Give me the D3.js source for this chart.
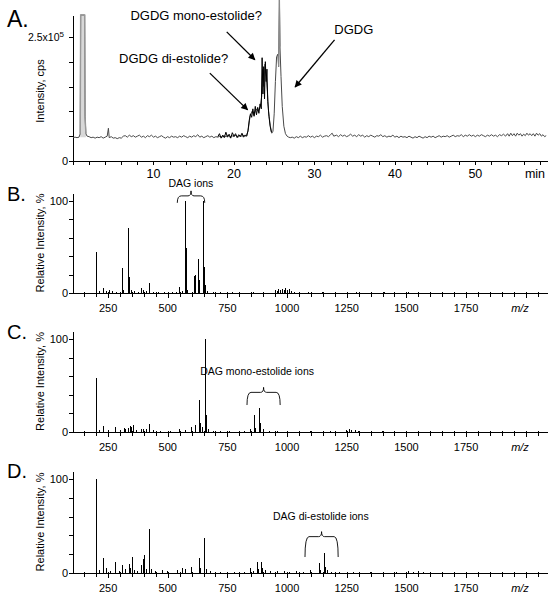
<!DOCTYPE html>
<html><head><meta charset="utf-8">
<script src="https://cdn.jsdelivr.net/npm/d3@7"></script>
<style>body{margin:0;background:#fff} svg{display:block} text{font-family:"Liberation Sans",Arial,sans-serif;fill:#000}</style>
</head><body><svg id="c" width="557" height="599"></svg>
<script>
// ---------- Panel A: chromatogram (time in min, intensity in 1e5 cps) ----------
const chromMain = [
[0,0.47],[0.25,0.48],[0.5,0.47],[0.75,0.48],[0.9,0.55],[0.95,2.94],[1.2,2.94],[1.45,2.94],[1.5,0.9],[1.6,0.55],[1.75,0.5],
[2,0.49],[2.25,0.47],[2.5,0.48],[2.75,0.46],[3,0.48],[3.25,0.47],[3.5,0.49],[3.75,0.46],[4,0.48],[4.25,0.5],[4.4,0.66],[4.5,0.47],
[4.75,0.49],[5,0.46],[5.25,0.47],[5.5,0.45],[5.75,0.47],[6,0.46],[6.25,0.5],[6.5,0.51],[6.75,0.48],[7,0.52],[7.25,0.49],[7.5,0.51],
[7.75,0.48],[8,0.5],[8.25,0.52],[8.5,0.48],[8.75,0.5],[9,0.47],[9.25,0.51],[9.5,0.49],[9.75,0.52],[10,0.48],[10.25,0.5],[10.5,0.47],
[10.75,0.49],[11,0.51],[11.25,0.48],[11.5,0.46],[11.75,0.49],[12,0.47],[12.25,0.5],[12.5,0.48],[12.75,0.49],[13,0.47],[13.25,0.5],
[13.5,0.48],[13.75,0.51],[14,0.49],[14.25,0.47],[14.5,0.5],[14.75,0.48],[15,0.51],[15.25,0.49],[15.5,0.53],[15.75,0.48],[16,0.5],
[16.25,0.47],[16.5,0.49],[16.75,0.51],[17,0.48],[17.25,0.5],[17.5,0.47],[17.75,0.49],[18,0.48],[18.25,0.5],[18.5,0.48],[18.75,0.51],
[19,0.49],[19.25,0.52],[19.5,0.48],[19.75,0.51],[20,0.49],[20.25,0.52],[20.5,0.48],[20.75,0.51],[21,0.5],[21.25,0.52],[21.5,0.5],
[21.75,0.6],[22,0.9],[22.25,1.0],[22.5,0.92],[22.75,1.05],[23,1.0],[23.25,1.1],[23.45,1.3],[23.55,1.85],[23.7,1.5],[23.85,1.95],
[24,1.7],[24.15,1.4],[24.3,1.0],[24.5,0.72],[24.7,0.56],[24.85,0.6],[25,0.95],[25.15,1.6],[25.3,2.1],[25.45,2.15],[25.55,1.9],
[25.65,3.25],[25.72,2.3],[25.85,1.7],[26,1.1],[26.2,0.7],[26.4,0.55],[26.6,0.5],[26.8,0.48],[27,0.47],[27.25,0.48],[27.5,0.46],
[27.75,0.49],[28,0.47],[28.25,0.5],[28.5,0.47],[28.75,0.49],[29,0.48],[29.25,0.51],[29.5,0.48],[29.75,0.5],[30,0.47],[30.25,0.5],
[30.5,0.49],[30.75,0.52],[31,0.48],[31.25,0.5],[31.5,0.51],[31.75,0.49],[32,0.53],[32.2,0.56],[32.4,0.5],[32.75,0.52],[33,0.49],
[33.25,0.53],[33.5,0.5],[33.75,0.52],[34,0.49],[34.25,0.51],[34.5,0.54],[34.75,0.5],[35,0.52],[35.25,0.49],[35.5,0.53],[35.75,0.5],
[36,0.52],[36.25,0.48],[36.5,0.51],[36.75,0.49],[37,0.52],[37.25,0.5],[37.5,0.48],[37.75,0.51],[38,0.5],[38.25,0.53],[38.5,0.49],
[38.75,0.51],[39,0.48],[39.25,0.5],[39.5,0.49],[39.75,0.52],[40,0.48],[40.25,0.5],[40.5,0.47],[40.75,0.5],[41,0.48],[41.25,0.49],
[41.5,0.47],[41.75,0.5],[42,0.48],[42.25,0.46],[42.5,0.49],[42.75,0.47],[43,0.5],[43.25,0.48],[43.5,0.46],[43.75,0.49],[44,0.47],
[44.25,0.5],[44.5,0.48],[44.75,0.5],[45,0.47],[45.25,0.49],[45.5,0.51],[45.75,0.48],[46,0.5],[46.25,0.49],[46.5,0.51],[46.75,0.48],
[47,0.5],[47.25,0.52],[47.5,0.49],[47.75,0.51],[48,0.5],[48.25,0.53],[48.5,0.49],[48.75,0.52],[49,0.5],[49.25,0.53],[49.5,0.5],
[49.75,0.52],[50,0.49],[50.25,0.52],[50.5,0.5],[50.75,0.53],[51,0.51],[51.25,0.49],[51.5,0.52],[51.75,0.5],[52,0.53],[52.25,0.5],
[52.5,0.52],[52.75,0.49],[53,0.53],[53.25,0.51],[53.5,0.54],[53.75,0.5],[54,0.55],[54.2,0.5],[54.4,0.56],[54.6,0.51],[54.8,0.55],
[55,0.5],[55.2,0.56],[55.4,0.52],[55.6,0.55],[55.8,0.5],[56,0.54],[56.2,0.51],[56.4,0.56],[56.6,0.52],[56.8,0.55],[57,0.51],
[57.2,0.55],[57.4,0.5],[57.6,0.56],[57.8,0.52],[58,0.55],[58.2,0.5],[58.4,0.53],[58.6,0.49],[58.8,0.51]
];
const chromBlack = [
[18,0.49],[18.2,0.55],[18.4,0.46],[18.6,0.52],[18.8,0.47],[19,0.58],[19.2,0.48],[19.4,0.54],[19.6,0.46],[19.8,0.57],[20,0.5],
[20.2,0.55],[20.4,0.47],[20.6,0.53],[20.8,0.49],[21,0.56],[21.2,0.48],[21.4,0.52],[21.6,0.5],[21.75,0.62],[21.9,0.82],[22.05,0.95],
[22.2,0.88],[22.35,1.05],[22.5,0.9],[22.65,1.1],[22.8,0.93],[22.95,1.08],[23.1,0.96],[23.25,1.15],[23.4,1.05],[23.5,2.08],[23.6,1.35],
[23.7,1.9],[23.8,1.25],[23.9,2.0],[24,1.6],[24.1,1.85],[24.2,1.2],[24.35,0.9],[24.5,0.7],[24.65,0.58]
];
const chromTimeTicks = [10, 20, 30, 40, 50];
const chromIntTicks = [0, 0.5, 1, 1.5, 2, 2.5];

// ---------- Panels B-D: MS/MS spectra (m/z, relative intensity %) ----------
const mzTickLabels = [250, 500, 750, 1000, 1250, 1500, 1750];
const relIntTicks = [0, 20, 40, 60, 80, 100];
const specB = [
[200,45],[202,5],[213,2],[231,5],[244,2],[258,3],[270,2],[285,1],[312,27],[316,3],[335,71],[337,58],[340,17],[348,3],[360,2],
[377,1],[392,5],[398,3],[410,2],[424,11],[440,1],[460,1],[485,1],[520,1],[536,1],[551,6],[563,2],[575,100],[577,49],[583,3],
[612,19],[618,20],[630,37],[634,14],[650,100],[653,28],[657,9],[668,2],[690,1],[720,1],[770,1],[860,1],[950,3],[958,2],
[966,4],[972,3],[980,4],[988,3],[995,5],[1002,3],[1010,4],[1018,2],[1030,1],[1090,1],[1150,1],[1290,1],[1410,1],[1510,1],[1600,1]
];
const specC = [
[200,58],[203,4],[213,2],[231,6],[250,2],[280,5],[300,2],[318,4],[325,3],[335,4],[342,6],[348,5],[356,7],[370,2],[390,3],
[400,3],[410,3],[424,9],[440,2],[470,1],[510,1],[550,3],[575,2],[600,5],[615,7],[635,34],[639,10],[645,5],[660,100],[664,18],
[672,3],[690,1],[720,1],[760,1],[820,1],[845,3],[862,18],[866,4],[885,26],[889,10],[900,3],[925,1],[960,1],[1050,1],[1100,1],
[1180,1],[1250,2],[1262,3],[1270,2],[1285,2],[1300,1],[1400,1],[1550,1],[1700,1]
];
const specD = [
[200,100],[202,20],[215,3],[231,16],[245,5],[262,2],[280,12],[296,2],[312,8],[325,4],[338,10],[345,5],[352,17],[360,3],[375,2],
[390,8],[398,15],[402,19],[410,4],[424,47],[430,4],[450,2],[480,3],[500,2],[540,3],[560,5],[575,4],[600,6],[632,16],[638,5],
[652,37],[656,10],[664,4],[680,2],[720,1],[780,1],[820,1],[848,5],[860,2],[875,12],[880,4],[894,12],[899,5],[910,3],
[930,2],[960,2],[990,2],[1010,1],[1040,2],[1070,1],[1100,3],[1134,11],[1140,3],[1155,21],[1160,6],[1170,3],[1185,1],[1220,1],
[1280,1],[1350,1],[1460,1],[1510,2],[1530,1],[1550,2],[1570,1],[1600,1],[1700,1]
];
const panelLetters = ["A.", "B.", "C.", "D."];
const ionLabels = ["DAG ions", "DAG mono-estolide ions", "DAG di-estolide ions"];

// ---------- drawing ----------
const svg = d3.select("#c");

// Panel A
const xA = d3.scaleLinear().domain([0, 58.9]).range([73, 547]);
const yA = d3.scaleLinear().domain([0, 2.94]).range([161, 15]);
const gA = svg.append("g");
const axA = gA.append("g").attr("transform", `translate(0,${yA(0)})`)
  .call(d3.axisBottom(xA).tickValues(d3.range(0, 59, 2)).tickSize(4).tickSizeOuter(0).tickFormat(() => ""));
const ayA = gA.append("g").attr("transform", `translate(${xA(0)},0)`)
  .call(d3.axisLeft(yA).tickValues(chromIntTicks).tickSize(4).tickSizeOuter(0).tickFormat(() => ""));
[axA, ayA].forEach(a => { a.selectAll("path,line").attr("stroke", "#000").attr("shape-rendering", "crispEdges"); });
chromTimeTicks.forEach(t => gA.append("text").attr("x", xA(t)).attr("y", 178).attr("text-anchor", "middle").attr("font-size", 12.5).text(t));
gA.append("text").attr("x", 535).attr("y", 178).attr("text-anchor", "middle").attr("font-size", 12.5).text("min");
gA.append("text").attr("x", 68).attr("y", yA(0) + 4).attr("text-anchor", "end").attr("font-size", 11).text("0");
const t25 = gA.append("text").attr("x", 64).attr("y", yA(2.5) + 4).attr("text-anchor", "end").attr("font-size", 10.5);
t25.append("tspan").text("2.5x10");
t25.append("tspan").attr("dy", -4).attr("font-size", 8).text("5");
gA.append("text").attr("transform", `translate(44,${(yA(0)+yA(2.94))/2+3}) rotate(-90)`).attr("text-anchor", "middle").attr("font-size", 11).text("Intensity, cps");

const lineA = d3.line().x(d => xA(d[0])).y(d => yA(d[1]));
const areaA = d3.area().x(d => xA(d[0])).y0(yA(0.48)).y1(d => yA(d[1]));
const solventPeak = chromMain.filter(d => d[0] >= 0.9 && d[0] <= 1.6);
const dgdgSpike = chromMain.filter(d => d[0] >= 25.55 && d[0] <= 25.72);
gA.append("path").datum(solventPeak).attr("d", areaA).attr("fill", "#d8d8d8");
gA.append("path").datum(chromMain).attr("d", lineA).attr("fill", "none").attr("stroke", "#4a4a4a").attr("stroke-width", 1);
gA.append("path").datum(solventPeak).attr("d", lineA).attr("fill", "none").attr("stroke", "#999").attr("stroke-width", 1.4);
gA.append("path").datum(dgdgSpike).attr("d", lineA).attr("fill", "none").attr("stroke", "#8a8a8a").attr("stroke-width", 1.2);
gA.append("path").datum(chromBlack).attr("d", lineA).attr("fill", "none").attr("stroke", "#000").attr("stroke-width", 1);

// arrows
const defs = svg.append("defs");
defs.append("marker").attr("id", "ah").attr("viewBox", "0 0 10 10").attr("refX", 9).attr("refY", 5)
  .attr("markerWidth", 9).attr("markerHeight", 7).attr("markerUnits", "userSpaceOnUse").attr("orient", "auto")
  .append("path").attr("d", "M0,0L10,5L0,10z").attr("fill", "#000");
const annA = [
  {text: "DGDG mono-estolide?", t: 15.3, i: 2.83, from: [19.1, 2.6], to: [22.6, 2.04]},
  {text: "DGDG di-estolide?", t: 12.5, i: 1.98, from: [17.0, 1.77], to: [21.7, 1.03]},
  {text: "DGDG", t: 34.9, i: 2.55, from: [32.5, 2.44], to: [27.6, 1.49]}
];
annA.forEach(a => {
  gA.append("text").attr("x", xA(a.t)).attr("y", yA(a.i)).attr("text-anchor", "middle").attr("font-size", 13).text(a.text);
  gA.append("line").attr("x1", xA(a.from[0])).attr("y1", yA(a.from[1])).attr("x2", xA(a.to[0])).attr("y2", yA(a.to[1]))
    .attr("stroke", "#000").attr("stroke-width", 1.3).attr("marker-end", "url(#ah)");
});

// Spectra panels
const xS = d3.scaleLinear().domain([103, 2089]).range([73, 547]);
const panels = [
  {data: specB, y0: 293, y100: 201, top: 193, label: ionLabels[0], br: [540, 655], tip: 111, end: 98, lx: 597, ly: 120, anchor: "middle"},
  {data: specC, y0: 432, y100: 339, top: 331, label: ionLabels[1], br: [832, 971], tip: 48, end: 29, lx: 636, ly: 66, anchor: "start"},
  {data: specD, y0: 573, y100: 479, top: 471, label: ionLabels[2], br: [1075, 1214], tip: 44, end: 17, lx: 941, ly: 61, anchor: "start"}
];
const minorTicks = d3.range(150, 2090, 50);
panels.forEach((p, k) => {
  const g = svg.append("g");
  const y = d3.scaleLinear().domain([0, 100]).range([p.y0, p.y100]);
  const yAx = y.copy().domain([0, y.invert(p.top)]).range([p.y0, p.top]);
  const ax = g.append("g").attr("transform", `translate(0,${p.y0})`)
    .call(d3.axisBottom(xS).tickValues(minorTicks).tickSize(4).tickSizeOuter(0).tickFormat(() => ""));
  ax.selectAll(".tick line").attr("y1", -1).attr("y2", d => d % 250 === 0 ? 5 : 3.5);
  const ay = g.append("g").attr("transform", `translate(${xS.range()[0]},0)`)
    .call(d3.axisLeft(yAx).tickValues(relIntTicks).tickSize(4).tickSizeOuter(0).tickFormat(() => ""));
  [ax, ay].forEach(a => a.selectAll("path,line").attr("stroke", "#000").attr("shape-rendering", "crispEdges"));
  mzTickLabels.forEach(m => g.append("text").attr("x", xS(m)).attr("y", p.y0 + 19).attr("text-anchor", "middle").attr("font-size", 11).text(m));
  g.append("text").attr("x", 520).attr("y", p.y0 + 19).attr("text-anchor", "middle").attr("font-size", 11).attr("font-style", "italic").text("m/z");
  g.append("text").attr("x", 68).attr("y", y(100) + 4).attr("text-anchor", "end").attr("font-size", 11).text("100");
  g.append("text").attr("x", 68).attr("y", y(0) + 4).attr("text-anchor", "end").attr("font-size", 11).text("0");
  g.append("text").attr("transform", `translate(44,${(p.y0 + p.top)/2}) rotate(-90)`).attr("text-anchor", "middle").attr("font-size", 11).text("Relative Intensity, %");
  g.selectAll("line.bar").data(p.data).join("line").attr("class", "bar")
    .attr("x1", d => xS(d[0])).attr("x2", d => xS(d[0])).attr("y1", y(0)).attr("y2", d => y(d[1]))
    .attr("stroke", "#000").attr("stroke-width", 1).attr("shape-rendering", "crispEdges");
  // brace
  const x1 = xS(p.br[0]), x2 = xS(p.br[1]), xc = (x1 + x2) / 2, yt = y(p.tip), ye = y(p.end), ym = yt + 5;
  g.append("path").attr("d", `M${x1},${ye} Q${x1},${ym} ${x1+4},${ym} L${xc-3},${ym} Q${xc},${ym} ${xc},${yt} Q${xc},${ym} ${xc+3},${ym} L${x2-4},${ym} Q${x2},${ym} ${x2},${ye}`)
    .attr("fill", "none").attr("stroke", "#000").attr("stroke-width", 0.9);
  g.append("text").attr("x", xS(p.lx)).attr("y", y(p.ly) + 4).attr("text-anchor", p.anchor).attr("font-size", 10.5).text(p.label);
});

// panel letters
[[7, 27, 23], [7, 201, 20], [7, 339, 20], [7, 478, 20]].forEach((pos, i) =>
  svg.append("text").attr("x", pos[0]).attr("y", pos[1]).attr("font-size", pos[2]).text(panelLetters[i]));
</script>
</body></html>
